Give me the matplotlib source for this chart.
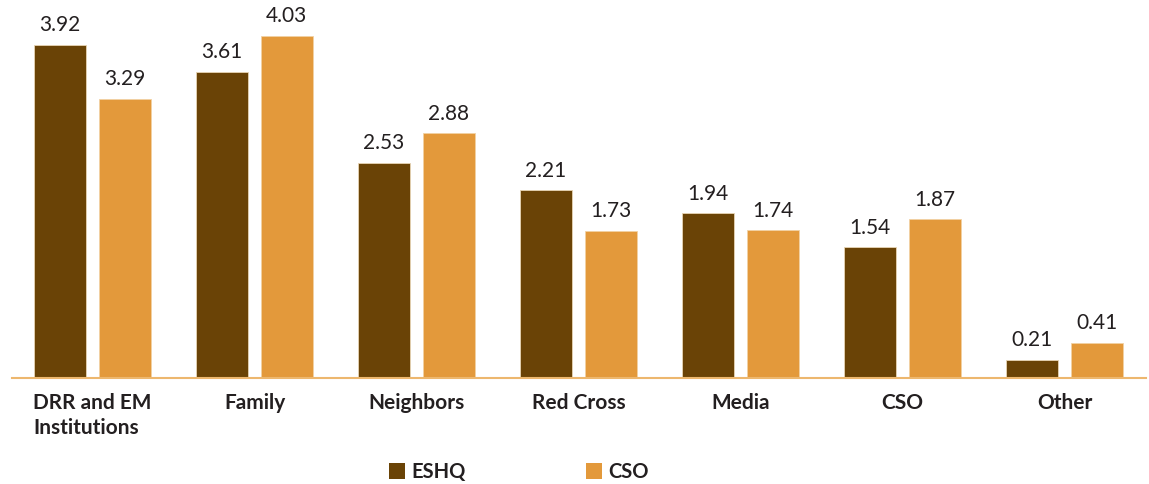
import numpy as np
import matplotlib.pyplot as plt
from matplotlib.patches import Patch

plt.rcParams['font.family'] = ['Lato', 'DejaVu Sans']

categories = ['DRR and EM\nInstitutions', 'Family', 'Neighbors', 'Red Cross', 'Media', 'CSO', 'Other']
eshq = [3.92, 3.61, 2.53, 2.21, 1.94, 1.54, 0.21]
cso = [3.29, 4.03, 2.88, 1.73, 1.74, 1.87, 0.41]

dark = '#6A4306'
orange = '#E3993B'
text_col = '#231F20'

fig = plt.figure(figsize=(11.49, 4.84), dpi=100)
ax = fig.add_axes([11.5 / 1149, 1 - 378 / 484, 1134 / 1149, 378 / 484])

x = np.arange(len(categories))
w = 0.32
off = 0.2
b1 = ax.bar(x - off, eshq, w, color=dark, edgecolor='#E8D5B5', linewidth=0.6)
b2 = ax.bar(x + off, cso, w, color=orange, edgecolor='#F2D2A4', linewidth=0.6)

for bars, vals in ((b1, eshq), (b2, cso)):
    for r, v in zip(bars, vals):
        ax.annotate(f'{v:.2f}', (r.get_x() + r.get_width() / 2, v),
                    xytext=(0, 7), textcoords='offset points',
                    ha='center', va='bottom', fontsize=15, color=text_col)

ax.set_xlim(-0.5, 6.5)
ax.set_ylim(0, 378 / 84.9)
ax.set_xticks(x)
ax.set_xticklabels(categories, fontsize=15, fontweight='bold', color=text_col,
                   multialignment='left', linespacing=1.3)
ax.tick_params(axis='x', length=0, pad=11)
ax.set_yticks([])
for s in ('top', 'right', 'left'):
    ax.spines[s].set_visible(False)
ax.spines['bottom'].set_color('#EDB76E')
ax.spines['bottom'].set_linewidth(1.5)

handles = [Patch(facecolor=dark, label='ESHQ'), Patch(facecolor=orange, label='CSO')]
fig.legend(handles=handles, loc='center', bbox_to_anchor=(519 / 1149, 1 - 472 / 484),
           ncol=2, frameon=False, handlelength=0.8, handleheight=0.8,
           handletextpad=0.3, columnspacing=6.0,
           prop={'size': 14.5, 'weight': 'bold'}, labelcolor=text_col)

fig.savefig('out.png', dpi=100)
